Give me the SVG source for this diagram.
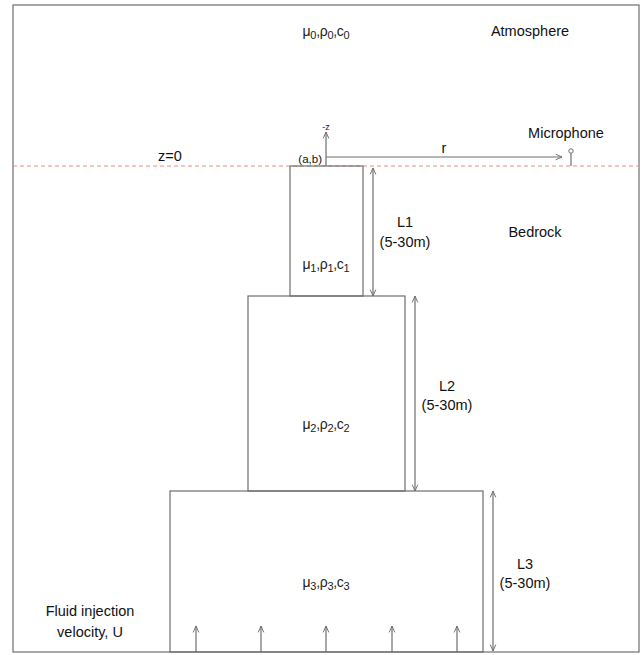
<svg xmlns="http://www.w3.org/2000/svg" width="644" height="655" viewBox="0 0 644 655">
<defs>
<style>
.ln{stroke:#6e6e6e;stroke-width:1.2;fill:none}
.box{stroke:#6e6e6e;stroke-width:1.2;fill:none}
.t{font-family:"Liberation Sans",Arial,sans-serif;font-size:14.5px;fill:#111}
.g{font-family:"Liberation Sans",Arial,sans-serif;font-size:14px;fill:#222;letter-spacing:-0.3px}
.s{font-size:11px}
.sm{font-family:"Liberation Sans",Arial,sans-serif;font-size:9px;fill:#222}
.ab{font-family:"Liberation Sans",Arial,sans-serif;font-size:11.5px;fill:#111}
</style>
<marker id="ah" viewBox="0 0 10 10" refX="9" refY="5" markerWidth="8" markerHeight="8" orient="auto-start-reverse" markerUnits="userSpaceOnUse">
<path d="M1,1.5 L9,5 L1,8.5" fill="none" stroke="#6e6e6e" stroke-width="1.2"/>
</marker>
</defs>
<rect width="644" height="655" fill="#fff"/>
<g id="frame"><rect x="13" y="5" width="626" height="647" class="box"/></g>
<g id="surface">
<line x1="13" y1="166" x2="639" y2="166" stroke="#f08a8a" stroke-width="1.2" stroke-dasharray="4,3"/>
<text x="170" y="161" class="t" text-anchor="middle">z=0</text>
</g>
<g id="atmosphere">
<text x="326" y="36" class="g" text-anchor="middle">μ<tspan class="s" dy="3">0</tspan><tspan dy="-3">,ρ</tspan><tspan class="s" dy="3">0</tspan><tspan dy="-3">,c</tspan><tspan class="s" dy="3">0</tspan></text>
<text x="530" y="36" class="t" text-anchor="middle">Atmosphere</text>
</g>
<g id="bedrock"><text x="535" y="237" class="t" text-anchor="middle">Bedrock</text></g>
<g id="layer1">
<rect x="290" y="166" width="73" height="130" class="box"/>
<text x="326" y="269" class="g" text-anchor="middle">μ<tspan class="s" dy="3">1</tspan><tspan dy="-3">,ρ</tspan><tspan class="s" dy="3">1</tspan><tspan dy="-3">,c</tspan><tspan class="s" dy="3">1</tspan></text>
</g>
<g id="layer2">
<rect x="248" y="296" width="157" height="195" class="box"/>
<text x="326" y="429" class="g" text-anchor="middle">μ<tspan class="s" dy="3">2</tspan><tspan dy="-3">,ρ</tspan><tspan class="s" dy="3">2</tspan><tspan dy="-3">,c</tspan><tspan class="s" dy="3">2</tspan></text>
</g>
<g id="layer3">
<rect x="170" y="491" width="313" height="161" class="box"/>
<text x="326" y="587" class="g" text-anchor="middle">μ<tspan class="s" dy="3">3</tspan><tspan dy="-3">,ρ</tspan><tspan class="s" dy="3">3</tspan><tspan dy="-3">,c</tspan><tspan class="s" dy="3">3</tspan></text>
</g>
<g id="microphone">
<circle cx="571" cy="151" r="2.2" fill="#fff" stroke="#6e6e6e" stroke-width="1"/>
<line x1="571" y1="153.2" x2="571" y2="166" class="ln"/>
<text x="566" y="138" class="t" text-anchor="middle">Microphone</text>
</g>
<g id="origin">
<text x="322" y="163" class="ab" text-anchor="end">(a,b)</text>
<text x="326" y="130" class="sm" text-anchor="middle">-z</text>
<text x="444" y="153" class="t" text-anchor="middle">r</text>
</g>
<g id="labels">
<text x="405" y="227" class="t" text-anchor="middle">L1</text>
<text x="405" y="247" class="t" text-anchor="middle">(5-30m)</text>
<text x="447" y="391" class="t" text-anchor="middle">L2</text>
<text x="447" y="410" class="t" text-anchor="middle">(5-30m)</text>
<text x="525" y="569" class="t" text-anchor="middle">L3</text>
<text x="525" y="588" class="t" text-anchor="middle">(5-30m)</text>
<text x="90" y="616" class="t" text-anchor="middle">Fluid injection</text>
<text x="90" y="637" class="t" text-anchor="middle">velocity, U</text>
</g>
<g id="connectors">
<line x1="326" y1="166" x2="326" y2="132" class="ln" marker-end="url(#ah)"/>
<line x1="326" y1="157" x2="562" y2="157" class="ln" marker-end="url(#ah)"/>
<line x1="373" y1="168" x2="373" y2="296" class="ln" marker-start="url(#ah)" marker-end="url(#ah)"/>
<line x1="415" y1="296" x2="415" y2="491" class="ln" marker-start="url(#ah)" marker-end="url(#ah)"/>
<line x1="493" y1="491" x2="493" y2="651" class="ln" marker-start="url(#ah)" marker-end="url(#ah)"/>
<line x1="196" y1="652" x2="196" y2="626" class="ln" marker-end="url(#ah)"/>
<line x1="261" y1="652" x2="261" y2="626" class="ln" marker-end="url(#ah)"/>
<line x1="326" y1="652" x2="326" y2="626" class="ln" marker-end="url(#ah)"/>
<line x1="392" y1="652" x2="392" y2="626" class="ln" marker-end="url(#ah)"/>
<line x1="457" y1="652" x2="457" y2="626" class="ln" marker-end="url(#ah)"/>
</g>
</svg>
